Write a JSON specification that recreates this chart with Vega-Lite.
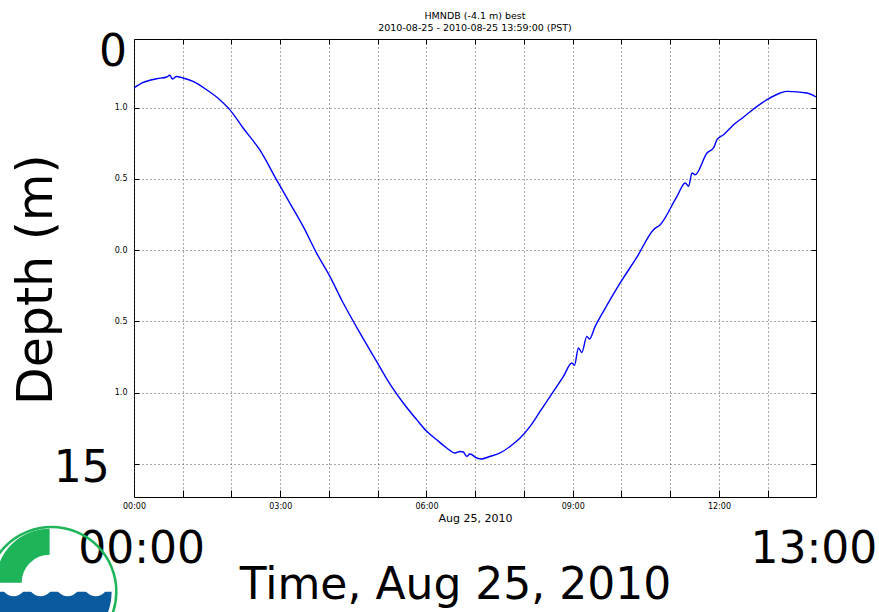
{
  "$schema": "https://vega.github.io/schema/vega-lite/v6.json",
  "width": 682,
  "height": 458,
  "autosize": {"type": "none"},
  "padding": {"left": 134, "top": 39, "right": 63, "bottom": 115},
  "background": "white",
  "config": {
    "view": {"stroke": "#000", "strokeWidth": 1},
    "font": "DejaVu Sans",
    "axis": {"labelFont": "DejaVu Sans", "labelColor": "#000", "titleFont": "DejaVu Sans", "titleColor": "#000", "titleFontWeight": "normal", "domain": false, "tickColor": "#000", "gridColor": "#555", "gridDash": [1, 3], "gridWidth": 1, "labelFlush": false}
  },
  "title": {
    "text": ["HMNDB (-4.1 m) best", "2010-08-25 - 2010-08-25 13:59:00 (PST)"],
    "font": "DejaVu Sans",
    "fontSize": 9.5,
    "fontWeight": "normal",
    "color": "#000",
    "anchor": "middle",
    "lineHeight": 12,
    "offset": -2
  },
  "datasets": {
    "tide": [
      {"h": 0.0, "v": 1.139}, {"h": 0.179, "v": 1.176}, {"h": 0.466, "v": 1.204}, {"h": 0.672, "v": 1.216},
      {"h": 0.733, "v": 1.228}, {"h": 0.789, "v": 1.202}, {"h": 0.871, "v": 1.22}, {"h": 1.006, "v": 1.209},
      {"h": 1.211, "v": 1.185}, {"h": 1.487, "v": 1.127}, {"h": 1.76, "v": 1.057}, {"h": 1.965, "v": 0.987},
      {"h": 2.238, "v": 0.858}, {"h": 2.581, "v": 0.704}, {"h": 2.924, "v": 0.494}, {"h": 3.197, "v": 0.331},
      {"h": 3.47, "v": 0.167}, {"h": 3.745, "v": -0.02}, {"h": 4.018, "v": -0.184}, {"h": 4.292, "v": -0.371},
      {"h": 4.634, "v": -0.581}, {"h": 4.977, "v": -0.781}, {"h": 5.216, "v": -0.921}, {"h": 5.524, "v": -1.073},
      {"h": 5.799, "v": -1.19}, {"h": 6.004, "v": -1.272}, {"h": 6.209, "v": -1.331}, {"h": 6.415, "v": -1.389},
      {"h": 6.585, "v": -1.424}, {"h": 6.688, "v": -1.413}, {"h": 6.756, "v": -1.417}, {"h": 6.825, "v": -1.448},
      {"h": 6.893, "v": -1.431}, {"h": 7.031, "v": -1.459}, {"h": 7.133, "v": -1.466}, {"h": 7.269, "v": -1.452},
      {"h": 7.509, "v": -1.424}, {"h": 7.714, "v": -1.378}, {"h": 7.92, "v": -1.319}, {"h": 8.125, "v": -1.237},
      {"h": 8.33, "v": -1.132}, {"h": 8.468, "v": -1.062}, {"h": 8.604, "v": -0.992}, {"h": 8.809, "v": -0.886},
      {"h": 8.982, "v": -0.792}, {"h": 9.035, "v": -0.809}, {"h": 9.117, "v": -0.687}, {"h": 9.187, "v": -0.718},
      {"h": 9.289, "v": -0.605}, {"h": 9.343, "v": -0.624}, {"h": 9.46, "v": -0.535}, {"h": 9.63, "v": -0.43},
      {"h": 9.973, "v": -0.23}, {"h": 10.316, "v": -0.049}, {"h": 10.657, "v": 0.144}, {"h": 10.795, "v": 0.179},
      {"h": 11.138, "v": 0.378}, {"h": 11.308, "v": 0.472}, {"h": 11.376, "v": 0.448}, {"h": 11.446, "v": 0.542},
      {"h": 11.513, "v": 0.53}, {"h": 11.754, "v": 0.683}, {"h": 11.889, "v": 0.718}, {"h": 11.959, "v": 0.776},
      {"h": 12.094, "v": 0.811}, {"h": 12.3, "v": 0.881}, {"h": 12.505, "v": 0.935}, {"h": 12.78, "v": 1.01},
      {"h": 12.986, "v": 1.057}, {"h": 13.259, "v": 1.104}, {"h": 13.396, "v": 1.115}, {"h": 13.807, "v": 1.104},
      {"h": 13.99, "v": 1.076}
    ],
    "bigtext": [
      {"label": "0", "h": -0.431, "v": 1.296},
      {"label": "15", "h": -1.074, "v": -1.626},
      {"label": "00:00", "h": 0.158, "v": -2.198},
      {"label": "13:00", "h": 13.946, "v": -2.198},
      {"label": "Time, Aug 25, 2010", "h": 6.595, "v": -2.447}
    ],
    "vtext": [
      {"label": "Depth (m)", "h": -1.676, "v": -0.207}
    ],
    "ring": [{"h": -1.69, "v": -2.398}],
    "wedge": [{"h": -1.731, "v": -2.335}],
    "waves": [
      {"h": -2.47, "v": -2.342}, {"h": -1.916, "v": -2.342}, {"h": -1.361, "v": -2.342}, {"h": -0.786, "v": -2.342}
    ]
  },
  "resolve": {"scale": {"x": "shared", "y": "shared"}, "axis": {"x": "independent", "y": "independent"}},
  "layer": [
    {
      "data": {"name": "tide"},
      "mark": {"type": "line", "color": "#0000ff", "strokeWidth": 1.4, "clip": true, "interpolate": "monotone"},
      "encoding": {
        "x": {
          "field": "h", "type": "quantitative",
          "scale": {"domain": [0, 13.99], "nice": false, "zero": false},
          "axis": {
            "orient": "bottom", "title": "Aug 25, 2010", "titleFontSize": 11, "titlePadding": 2,
            "values": [0, 1, 2, 3, 4, 5, 6, 7, 8, 9, 10, 11, 12, 13],
            "labelExpr": "datum.value % 3 == 0 ? (datum.value < 10 ? '0' : '') + datum.value + ':00' : ''",
            "labelFontSize": 8, "tickSize": -7, "labelPadding": 12, "grid": true
          }
        },
        "y": {
          "field": "v", "type": "quantitative",
          "scale": {"domain": [-1.733, 1.483], "nice": false, "zero": false},
          "axis": {
            "orient": "left", "title": null,
            "values": [-1.5, -1, -0.5, 0, 0.5, 1],
            "labelExpr": "datum.value < -1.2 ? '' : format(abs(datum.value), '.1f')",
            "labelFontSize": 8, "tickSize": -5, "labelPadding": 12, "grid": true
          }
        }
      }
    },
    {
      "data": {"name": "tide"},
      "mark": {"type": "point", "opacity": 0},
      "encoding": {
        "x": {
          "field": "h", "type": "quantitative",
          "axis": {"orient": "top", "title": null, "labels": false, "grid": false, "tickSize": -5, "values": [0, 1, 2, 3, 4, 5, 6, 7, 8, 9, 10, 11, 12, 13]}
        },
        "y": {
          "field": "v", "type": "quantitative",
          "axis": {"orient": "right", "title": null, "labels": false, "grid": false, "tickSize": -5, "values": [-1.5, -1, -0.5, 0, 0.5, 1]}
        }
      }
    },
    {
      "data": {"name": "bigtext"},
      "mark": {"type": "text", "font": "DejaVu Sans", "fontSize": 44, "color": "#000", "align": "center", "baseline": "alphabetic"},
      "encoding": {
        "x": {"field": "h", "type": "quantitative", "axis": null},
        "y": {"field": "v", "type": "quantitative", "axis": null},
        "text": {"field": "label"}
      }
    },
    {
      "data": {"name": "vtext"},
      "mark": {"type": "text", "font": "DejaVu Sans", "fontSize": 49, "color": "#000", "align": "center", "baseline": "alphabetic", "angle": 270},
      "encoding": {
        "x": {"field": "h", "type": "quantitative", "axis": null},
        "y": {"field": "v", "type": "quantitative", "axis": null},
        "text": {"field": "label"}
      }
    },
    {
      "data": {"name": "ring"},
      "mark": {"type": "arc", "color": "#0a5aa0", "radius": 60, "radius2": 0, "theta": 1.5708, "theta2": 4.7124},
      "encoding": {
        "x": {"field": "h", "type": "quantitative", "axis": null},
        "y": {"field": "v", "type": "quantitative", "axis": null}
      }
    },
    {
      "data": {"name": "waves"},
      "mark": {"type": "point", "filled": true, "color": "white", "opacity": 1, "size": 616, "strokeWidth": 0},
      "encoding": {
        "x": {"field": "h", "type": "quantitative", "axis": null},
        "y": {"field": "v", "type": "quantitative", "axis": null}
      }
    },
    {
      "data": {"name": "wedge"},
      "mark": {"type": "arc", "color": "#1db45a", "radius": 54, "radius2": 28, "theta": -1.5708, "theta2": 0},
      "encoding": {
        "x": {"field": "h", "type": "quantitative", "axis": null},
        "y": {"field": "v", "type": "quantitative", "axis": null}
      }
    },
    {
      "data": {"name": "ring"},
      "mark": {"type": "arc", "color": "#1db45a", "radius": 66, "radius2": 63.5, "theta": 0, "theta2": 6.2832},
      "encoding": {
        "x": {"field": "h", "type": "quantitative", "axis": null},
        "y": {"field": "v", "type": "quantitative", "axis": null}
      }
    }
  ]
}
